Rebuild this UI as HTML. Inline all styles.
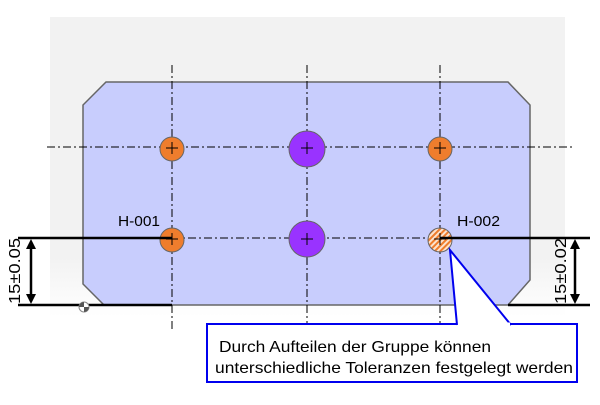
<!DOCTYPE html>
<html><head><meta charset="utf-8"><style>
body{margin:0;background:#fff;width:600px;height:400px;overflow:hidden}
</style></head><body>
<svg width="600" height="400" xmlns="http://www.w3.org/2000/svg" font-family="Liberation Sans, sans-serif">
<defs>
<linearGradient id="bg" x1="0" y1="0" x2="0" y2="1">
<stop offset="0" stop-color="#f2f2f2"/><stop offset="0.8" stop-color="#f2f2f2"/><stop offset="1" stop-color="#fff"/>
</linearGradient>
<pattern id="hat" width="4" height="4" patternUnits="userSpaceOnUse" patternTransform="rotate(45)">
<rect width="4" height="4" fill="#fbe3cf"/><rect width="2" height="4" fill="#ef7d2d"/>
</pattern>
</defs>
<rect x="50" y="17" width="515" height="300" fill="url(#bg)"/>
<polygon points="106,82 508,82 530,105 530,280 508,305 104,305 83,284 83,105" fill="#c8cdfd" stroke="#666" stroke-width="1.5"/>
<g stroke="#000" stroke-width="1" stroke-dasharray="8,3,2,3">
<line x1="172" y1="65" x2="172" y2="330"/>
<line x1="307" y1="65" x2="307" y2="330"/>
<line x1="440" y1="65" x2="440" y2="330"/>
<line x1="47" y1="147" x2="575" y2="147"/>
<line x1="172" y1="238" x2="440" y2="238"/>
</g>
<g stroke="#666" stroke-width="1">
<circle cx="172" cy="149" r="12" fill="#ef7d2d"/>
<circle cx="440" cy="149" r="12" fill="#ef7d2d"/>
<circle cx="307" cy="149" r="18" fill="#9933ff"/>
<circle cx="172" cy="240" r="12" fill="#ef7d2d"/>
<circle cx="307" cy="239" r="18" fill="#9933ff"/>
<circle cx="440" cy="240" r="12" fill="url(#hat)"/>
</g>
<g stroke="#000" stroke-width="1">
<path d="M166,148h12M172,142v12M301,148h12M307,142v12M434,148h12M440,142v12M166,239h12M172,233v12M301,239h12M307,233v12M434,239h12M440,233v12"/>
</g>
<g stroke="#000" stroke-width="2.5">
<line x1="18" y1="238" x2="172" y2="238"/>
<line x1="18" y1="305" x2="172" y2="305"/>
<line x1="440" y1="238" x2="590" y2="238"/>
<line x1="508" y1="305" x2="590" y2="305"/>
<line x1="31" y1="244" x2="31" y2="299"/>
<line x1="575" y1="244" x2="575" y2="299"/>
</g>
<g fill="#000">
<polygon points="31,239 26,249 36,249"/><polygon points="31,304 26,294 36,294"/>
<polygon points="575,239 570,249 580,249"/><polygon points="575,304 570,294 580,294"/>
</g>
<text transform="translate(20,271) rotate(-90)" font-size="16" text-anchor="middle" textLength="66" lengthAdjust="spacingAndGlyphs">15±0.05</text>
<text transform="translate(566,271) rotate(-90)" font-size="16" text-anchor="middle" textLength="66" lengthAdjust="spacingAndGlyphs">15±0.02</text>
<text x="118" y="226" font-size="15" textLength="42" lengthAdjust="spacingAndGlyphs">H-001</text>
<text x="457" y="226" font-size="15" textLength="43" lengthAdjust="spacingAndGlyphs">H-002</text>
<circle cx="84" cy="307" r="5" fill="#fff" stroke="#888"/>
<path d="M84,307v-5a5,5 0 0 0 -5,5z M84,307v5a5,5 0 0 0 5,-5z" fill="#555"/>
<rect x="207" y="324" width="370" height="58" fill="#fff" stroke="#0000ee" stroke-width="2"/>
<polyline points="457,325 450,250 511,325" fill="#fff" stroke="#0000ee" stroke-width="2"/>
<line x1="458" y1="324" x2="510" y2="324" stroke="#fff" stroke-width="3"/>
<text x="219" y="352" font-size="16" textLength="272" lengthAdjust="spacingAndGlyphs">Durch Aufteilen der Gruppe können</text>
<text x="215" y="373" font-size="16" textLength="358" lengthAdjust="spacingAndGlyphs">unterschiedliche Toleranzen festgelegt werden</text>
</svg>
</body></html>
